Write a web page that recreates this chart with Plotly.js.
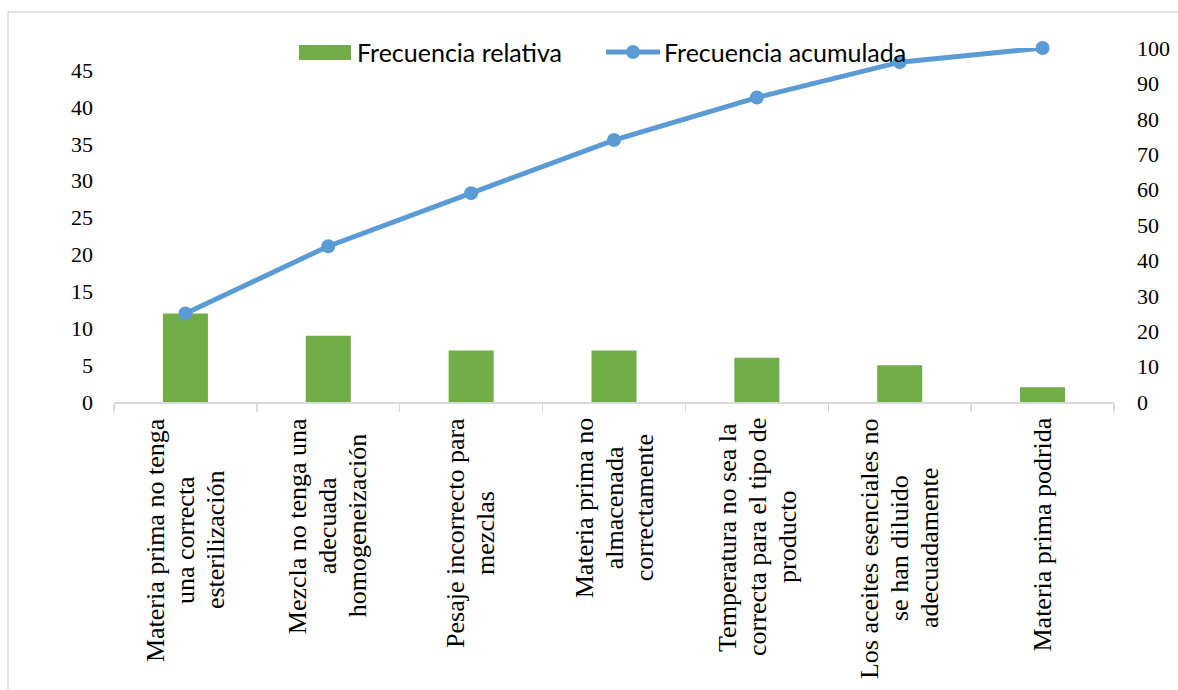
<!DOCTYPE html>
<html>
<head>
<meta charset="utf-8">
<script src="https://cdn.plot.ly/plotly-3.0.1.min.js"></script>
<style>
  html, body { margin: 0; padding: 0; background: #ffffff; }
  #chart { width: 1178px; height: 690px; }
</style>
</head>
<body>
<div id="chart"></div>
<script>
// Causes of defects (Pareto analysis)
const categorias = [
  "Materia prima no tenga una correcta esterilización",
  "Mezcla no tenga una adecuada homogeneización",
  "Pesaje incorrecto para mezclas",
  "Materia prima no almacenada correctamente",
  "Temperatura no sea la correcta para el tipo de producto",
  "Los aceites esenciales no se han diluido adecuadamente",
  "Materia prima podrida"
];
// Category labels as they are broken into lines under the axis
const etiquetas = [
  ["Materia prima no tenga", "una correcta", "esterilización"],
  ["Mezcla no tenga una", "adecuada", "homogeneización"],
  ["Pesaje incorrecto para", "mezclas"],
  ["Materia prima no", "almacenada", "correctamente"],
  ["Temperatura no sea la", "correcta para el tipo de", "producto"],
  ["Los aceites esenciales no", "se han diluido", "adecuadamente"],
  ["Materia prima podrida"]
];
const frecuenciaRelativa = [12, 9, 7, 7, 6, 5, 2];
const frecuenciaAcumulada = [25, 44, 59, 74, 86, 96, 100];
const ticksIzquierda = [0, 5, 10, 15, 20, 25, 30, 35, 40, 45];
const ticksDerecha = [0, 10, 20, 30, 40, 50, 60, 70, 80, 90, 100];
const nombresSeries = ["Frecuencia relativa", "Frecuencia acumulada"];

const VERDE = "#70ad47";
const AZUL = "#5b9bd5";
const GRIS = "#d9d9d9";
const SERIF = "Liberation Serif";
const SANS = "Lato";
const LABEL_SIZE = 26;
const LABEL_LEADING = 30;   // distance between label lines, px

// page geometry of the plot area
const W = 1178, H = 690;
const M = { l: 114, r: 64, t: 48, b: 288 };
const PW = W - M.l - M.r, PH = H - M.t - M.b;
const px = x => (x - M.l) / PW;          // page x -> paper x
const py = y => (H - M.b - y) / PH;      // page y -> paper y

// text width measurement, used to centre the lines of each rotated label
const ctx = document.createElement("canvas").getContext("2d");
ctx.font = LABEL_SIZE + "px '" + SERIF + "'";
const textWidth = s => ctx.measureText(s).width;

const traces = [
  {
    type: "bar",
    x: categorias,
    y: frecuenciaRelativa,
    name: nombresSeries[0],
    marker: { color: VERDE },
    yaxis: "y",
    showlegend: false,
    hoverinfo: "x+y"
  },
  {
    type: "scatter",
    mode: "lines+markers",
    x: categorias,
    y: frecuenciaAcumulada,
    name: nombresSeries[1],
    line: { color: AZUL, width: 5 },
    marker: { color: AZUL, size: 14 },
    yaxis: "y2",
    showlegend: false,
    cliponaxis: false,
    hoverinfo: "x+y"
  }
];

// category labels under the axis: one rotated annotation per line,
// all lines of a label centred on the middle of its longest line
const LABEL_TOP = 418;
const annotations = [];
categorias.forEach((c, i) => {
  const lineas = etiquetas[i];
  const largo = Math.max(...lineas.map(textWidth));
  const centro = LABEL_TOP + largo / 2;
  lineas.forEach((t, k) => {
    annotations.push({
      xref: "x", yref: "paper",
      x: c, y: py(centro),
      xshift: (k - (lineas.length - 1) / 2) * LABEL_LEADING,
      xanchor: "center", yanchor: "middle",
      text: t,
      textangle: -90,
      showarrow: false,
      font: { family: SERIF, size: LABEL_SIZE, color: "#000000" }
    });
  });
});

// legend entries
annotations.push(
  {
    xref: "paper", yref: "paper", x: px(355), y: py(52),
    xanchor: "left", yanchor: "middle", showarrow: false,
    text: nombresSeries[0],
    font: { family: SANS, size: 25, color: "#000000" }
  },
  {
    xref: "paper", yref: "paper", x: px(662), y: py(52),
    xanchor: "left", yanchor: "middle", showarrow: false,
    text: nombresSeries[1],
    font: { family: SANS, size: 25, color: "#000000" }
  }
);

const shapes = [
  // legend swatch for the bars
  { type: "rect", xref: "paper", yref: "paper",
    x0: px(299), x1: px(351), y0: py(60), y1: py(45),
    fillcolor: VERDE, line: { width: 0 } },
  // legend symbol for the line
  { type: "line", xref: "paper", yref: "paper",
    x0: px(606), x1: px(660), y0: py(52), y1: py(52),
    line: { color: AZUL, width: 5 } },
  { type: "circle", xref: "paper", yref: "paper",
    x0: px(626), x1: px(640), y0: py(59), y1: py(45),
    fillcolor: AZUL, line: { width: 0 } },
  // chart frame
  { type: "line", xref: "paper", yref: "paper",
    x0: px(8), x1: px(8), y0: py(12), y1: py(H),
    line: { color: GRIS, width: 1.5 } },
  { type: "line", xref: "paper", yref: "paper",
    x0: px(8), x1: px(W), y0: py(12), y1: py(12),
    line: { color: GRIS, width: 1.5 } }
];

const layout = {
  width: W, height: H,
  margin: M,
  paper_bgcolor: "#ffffff",
  plot_bgcolor: "#ffffff",
  showlegend: false,
  bargap: 0.685,
  font: { family: SERIF, size: 22, color: "#000000" },
  xaxis: {
    type: "category",
    range: [-0.5, categorias.length - 0.5],
    showline: true, linecolor: GRIS, linewidth: 1.5,
    ticks: "outside", tickson: "boundaries", ticklen: 8,
    tickcolor: GRIS, tickwidth: 1.5,
    showticklabels: false,
    showgrid: false, zeroline: false, fixedrange: true
  },
  yaxis: {
    range: [0, 48],
    tickvals: ticksIzquierda,
    showgrid: false, zeroline: false, showline: false,
    ticks: "", ticklabelstandoff: 20,
    tickfont: { family: SERIF, size: 22, color: "#000000" },
    fixedrange: true
  },
  yaxis2: {
    overlaying: "y", side: "right",
    range: [0, 100],
    tickvals: ticksDerecha,
    showgrid: false, zeroline: false, showline: false,
    ticks: "", ticklabelstandoff: 22,
    tickfont: { family: SERIF, size: 22, color: "#000000" },
    fixedrange: true
  },
  annotations: annotations,
  shapes: shapes
};

Plotly.newPlot("chart", traces, layout, { displayModeBar: false, staticPlot: true });
</script>
</body>
</html>
